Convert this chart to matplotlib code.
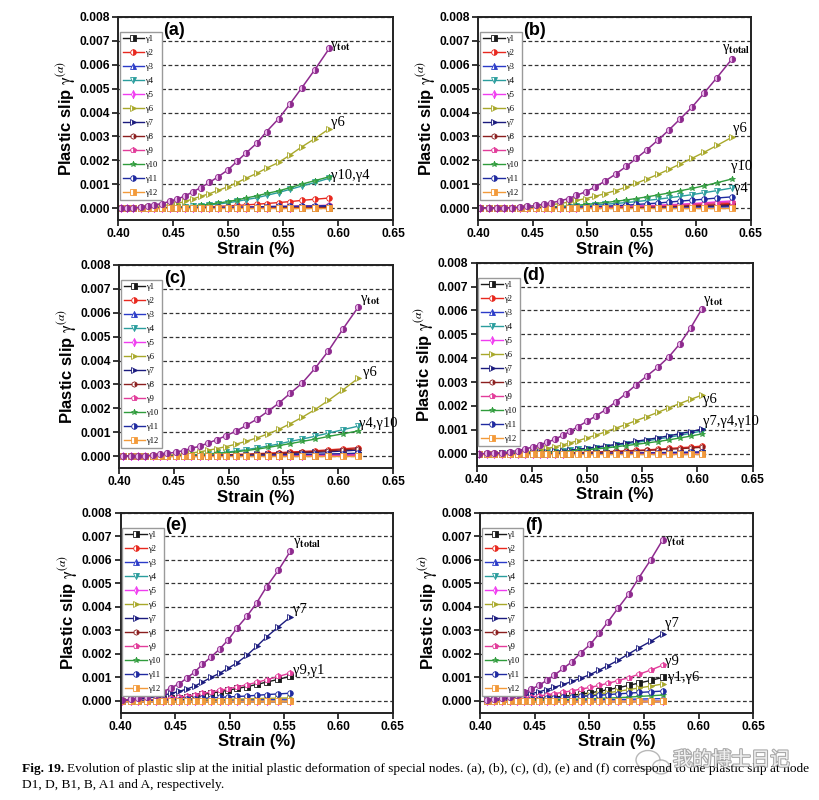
import matplotlib.pyplot as plt
import matplotlib.patheffects as pe
from matplotlib.patches import Ellipse
import numpy as np

plt.rcParams['font.family'] = 'Liberation Sans'
plt.rcParams['mathtext.fontset'] = 'stix'

# ---------------- data: plastic slip in units of 1e-3 ----------------
# (a) node D1
strain_a = [0.403, 0.408, 0.414, 0.421, 0.427, 0.433, 0.440, 0.447, 0.454, 0.461, 0.468, 0.475,
            0.483, 0.491, 0.500, 0.508, 0.516, 0.526, 0.535, 0.546, 0.556, 0.567, 0.579, 0.592]
slip_a = [
    [0, 0, 0, 0, 0, 0, 0, 0, 0, 0, 0, 0, 0, 0, 0, 0, 0, 0, 0.01, 0.01, 0.01, 0.01, 0.02, 0.02],
    [0, 0, 0, 0, 0, 0, 0, 0.01, 0.01, 0.02, 0.03, 0.04, 0.05, 0.07, 0.09, 0.11, 0.13, 0.16, 0.19, 0.23, 0.27, 0.32, 0.37, 0.42],
    [0, 0, 0, 0, 0, 0, 0, 0, 0, 0, 0, 0.01, 0.01, 0.01, 0.02, 0.02, 0.03, 0.03, 0.04, 0.05, 0.05, 0.06, 0.07, 0.08],
    [0, 0, 0, 0, 0, 0.01, 0.01, 0.02, 0.03, 0.05, 0.07, 0.10, 0.13, 0.17, 0.22, 0.28, 0.35, 0.43, 0.53, 0.65, 0.78, 0.92, 1.07, 1.25],
    [0, 0, 0, 0, 0, 0, 0, 0, 0, 0, 0, 0, 0, 0, 0.01, 0.01, 0.01, 0.01, 0.02, 0.02, 0.02, 0.03, 0.03, 0.04],
    [0, 0, 0.01, 0.02, 0.04, 0.06, 0.10, 0.14, 0.19, 0.28, 0.38, 0.49, 0.60, 0.74, 0.89, 1.06, 1.24, 1.45, 1.67, 1.91, 2.21, 2.56, 2.91, 3.32],
    [0, 0, 0, 0, 0, 0, 0, 0, 0, 0, 0, 0, 0.01, 0.01, 0.01, 0.01, 0.02, 0.02, 0.03, 0.03, 0.04, 0.05, 0.05, 0.06],
    [0, 0, 0, 0, 0, 0, 0, 0, 0, 0, 0, 0, 0, 0, 0, 0, 0, 0.01, 0.01, 0.01, 0.01, 0.01, 0.02, 0.02],
    [0, 0, 0, 0, 0, 0, 0, 0, 0, 0.01, 0.01, 0.01, 0.02, 0.02, 0.03, 0.03, 0.04, 0.05, 0.06, 0.07, 0.08, 0.09, 0.10, 0.12],
    [0, 0, 0, 0, 0.01, 0.01, 0.02, 0.03, 0.04, 0.06, 0.09, 0.12, 0.16, 0.21, 0.27, 0.34, 0.42, 0.51, 0.61, 0.72, 0.85, 1.00, 1.15, 1.31],
    [0, 0, 0, 0, 0, 0, 0, 0, 0.01, 0.01, 0.01, 0.02, 0.02, 0.03, 0.03, 0.04, 0.04, 0.05, 0.06, 0.07, 0.07, 0.08, 0.09, 0.10],
    [0, 0, 0, 0, 0, 0, 0, 0, 0, 0, 0, 0, 0, 0, 0, 0, 0, 0, 0, 0, 0, 0, 0, 0],
]
tot_a = [0, 0, 0.01, 0.04, 0.08, 0.13, 0.19, 0.28, 0.38, 0.51, 0.68, 0.85, 1.07, 1.31, 1.60, 1.95,
         2.29, 2.71, 3.20, 3.74, 4.34, 5.03, 5.80, 6.68]

# (b) node D
strain_b = [0.402, 0.410, 0.417, 0.424, 0.431, 0.438, 0.445, 0.453, 0.460, 0.467, 0.475, 0.483, 0.490, 0.499,
            0.507, 0.516, 0.526, 0.536, 0.545, 0.555, 0.565, 0.575, 0.585, 0.596, 0.607, 0.619, 0.633]
slip_b = [
    [0, 0, 0, 0, 0, 0, 0, 0, 0, 0, 0, 0, 0.01, 0.01, 0.01, 0.02, 0.02, 0.03, 0.03, 0.04, 0.04, 0.05, 0.05, 0.06, 0.07, 0.07, 0.08],
    [0, 0, 0, 0, 0, 0, 0, 0, 0, 0.01, 0.01, 0.01, 0.02, 0.02, 0.03, 0.04, 0.05, 0.06, 0.07, 0.08, 0.09, 0.11, 0.12, 0.14, 0.16, 0.18, 0.20],
    [0, 0, 0, 0, 0, 0, 0, 0, 0, 0, 0, 0, 0, 0, 0.01, 0.01, 0.01, 0.01, 0.02, 0.02, 0.02, 0.03, 0.03, 0.03, 0.04, 0.04, 0.05],
    [0, 0, 0, 0, 0, 0, 0.01, 0.01, 0.02, 0.03, 0.04, 0.06, 0.08, 0.10, 0.13, 0.16, 0.19, 0.23, 0.27, 0.32, 0.37, 0.43, 0.49, 0.56, 0.64, 0.73, 0.84],
    [0, 0, 0, 0, 0, 0, 0, 0, 0.01, 0.01, 0.01, 0.02, 0.02, 0.03, 0.04, 0.05, 0.06, 0.07, 0.09, 0.10, 0.12, 0.14, 0.16, 0.19, 0.22, 0.26, 0.30],
    [0, 0, 0, 0, 0.01, 0.02, 0.04, 0.07, 0.10, 0.14, 0.19, 0.25, 0.32, 0.40, 0.49, 0.60, 0.73, 0.88, 1.04, 1.22, 1.41, 1.62, 1.84, 2.08, 2.33, 2.62, 2.97],
    [0, 0, 0, 0, 0, 0, 0, 0, 0, 0, 0, 0.01, 0.01, 0.01, 0.02, 0.02, 0.03, 0.03, 0.04, 0.05, 0.05, 0.06, 0.07, 0.08, 0.09, 0.10, 0.12],
    [0, 0, 0, 0, 0, 0, 0, 0, 0, 0, 0.01, 0.01, 0.01, 0.01, 0.02, 0.02, 0.03, 0.04, 0.04, 0.05, 0.06, 0.07, 0.08, 0.10, 0.11, 0.13, 0.15],
    [0, 0, 0, 0, 0, 0, 0, 0, 0, 0.01, 0.01, 0.01, 0.02, 0.02, 0.03, 0.04, 0.05, 0.06, 0.07, 0.09, 0.10, 0.12, 0.14, 0.16, 0.19, 0.22, 0.25],
    [0, 0, 0, 0, 0, 0.01, 0.01, 0.02, 0.03, 0.05, 0.07, 0.09, 0.12, 0.15, 0.19, 0.23, 0.28, 0.34, 0.40, 0.47, 0.55, 0.63, 0.72, 0.82, 0.93, 1.06, 1.22],
    [0, 0, 0, 0, 0, 0, 0, 0.01, 0.01, 0.02, 0.02, 0.03, 0.04, 0.05, 0.07, 0.08, 0.10, 0.12, 0.15, 0.18, 0.21, 0.25, 0.29, 0.33, 0.37, 0.42, 0.47],
    [0, 0, 0, 0, 0, 0, 0, 0, 0, 0, 0, 0, 0, 0, 0, 0, 0, 0, 0, 0, 0, 0, 0, 0, 0, 0, 0],
]
tot_b = [0, 0, 0, 0.01, 0.02, 0.04, 0.07, 0.11, 0.16, 0.22, 0.30, 0.40, 0.53, 0.69, 0.88, 1.12, 1.42,
         1.75, 2.08, 2.45, 2.85, 3.27, 3.72, 4.22, 4.80, 5.46, 6.25]

# (c) node B1
strain_c = [0.404, 0.411, 0.417, 0.424, 0.431, 0.437, 0.444, 0.452, 0.459, 0.466, 0.474, 0.481, 0.489,
            0.498, 0.507, 0.516, 0.526, 0.536, 0.546, 0.556, 0.567, 0.579, 0.591, 0.604, 0.618]
slip_c = [
    [0, 0, 0, 0, 0, 0, 0, 0, 0, 0, 0, 0, 0, 0, 0, 0, 0.01, 0.01, 0.01, 0.01, 0.02, 0.02, 0.02, 0.03, 0.03],
    [0, 0, 0, 0, 0, 0, 0, 0.01, 0.01, 0.02, 0.02, 0.03, 0.04, 0.05, 0.07, 0.08, 0.10, 0.12, 0.14, 0.17, 0.19, 0.22, 0.26, 0.30, 0.35],
    [0, 0, 0, 0, 0, 0, 0, 0, 0, 0, 0, 0, 0.01, 0.01, 0.01, 0.02, 0.02, 0.02, 0.03, 0.03, 0.04, 0.04, 0.05, 0.05, 0.06],
    [0, 0, 0, 0, 0, 0.01, 0.01, 0.02, 0.03, 0.05, 0.07, 0.09, 0.12, 0.16, 0.21, 0.27, 0.34, 0.42, 0.51, 0.61, 0.71, 0.83, 0.96, 1.10, 1.25],
    [0, 0, 0, 0, 0, 0, 0, 0, 0, 0, 0, 0, 0, 0, 0.01, 0.01, 0.01, 0.01, 0.02, 0.02, 0.02, 0.03, 0.03, 0.04, 0.04],
    [0, 0, 0, 0.01, 0.01, 0.02, 0.04, 0.06, 0.09, 0.13, 0.18, 0.24, 0.31, 0.40, 0.50, 0.62, 0.76, 0.93, 1.12, 1.35, 1.62, 1.95, 2.33, 2.76, 3.25],
    [0, 0, 0, 0, 0, 0, 0, 0, 0.01, 0.01, 0.01, 0.02, 0.03, 0.03, 0.04, 0.05, 0.07, 0.08, 0.10, 0.11, 0.13, 0.16, 0.18, 0.21, 0.25],
    [0, 0, 0, 0, 0, 0, 0, 0, 0.01, 0.01, 0.02, 0.02, 0.03, 0.04, 0.05, 0.06, 0.08, 0.09, 0.11, 0.13, 0.16, 0.19, 0.22, 0.26, 0.30],
    [0, 0, 0, 0, 0, 0, 0, 0, 0, 0, 0, 0, 0, 0.01, 0.01, 0.01, 0.01, 0.02, 0.02, 0.02, 0.03, 0.03, 0.04, 0.04, 0.05],
    [0, 0, 0, 0, 0, 0.01, 0.01, 0.02, 0.03, 0.04, 0.06, 0.08, 0.11, 0.14, 0.18, 0.23, 0.29, 0.36, 0.44, 0.52, 0.61, 0.71, 0.82, 0.93, 1.05],
    [0, 0, 0, 0, 0, 0, 0, 0, 0, 0, 0.01, 0.01, 0.01, 0.02, 0.02, 0.03, 0.03, 0.04, 0.05, 0.06, 0.07, 0.08, 0.09, 0.10, 0.12],
    [0, 0, 0, 0, 0, 0, 0, 0, 0, 0, 0, 0, 0, 0, 0, 0, 0, 0, 0, 0, 0, 0, 0, 0, 0],
]
tot_c = [0, 0, 0.01, 0.02, 0.04, 0.07, 0.11, 0.16, 0.23, 0.32, 0.42, 0.54, 0.68, 0.86, 1.05, 1.28,
         1.55, 1.88, 2.22, 2.62, 3.05, 3.68, 4.40, 5.30, 6.22]

# (d) node B
strain_d = [0.402, 0.409, 0.416, 0.423, 0.430, 0.437, 0.444, 0.451, 0.457, 0.464, 0.471, 0.478, 0.485,
            0.492, 0.500, 0.508, 0.517, 0.526, 0.535, 0.544, 0.554, 0.564, 0.574, 0.584, 0.594, 0.604]
slip_d = [
    [0, 0, 0, 0, 0, 0, 0, 0, 0, 0, 0, 0, 0, 0.01, 0.01, 0.01, 0.01, 0.02, 0.02, 0.02, 0.03, 0.03, 0.03, 0.04, 0.04, 0.05],
    [0, 0, 0, 0, 0, 0, 0.01, 0.01, 0.01, 0.02, 0.02, 0.03, 0.04, 0.05, 0.06, 0.07, 0.09, 0.10, 0.12, 0.14, 0.16, 0.19, 0.22, 0.25, 0.28, 0.32],
    [0, 0, 0, 0, 0, 0, 0, 0, 0, 0, 0, 0.01, 0.01, 0.01, 0.02, 0.02, 0.02, 0.03, 0.03, 0.04, 0.04, 0.05, 0.05, 0.06, 0.06, 0.07],
    [0, 0, 0, 0.01, 0.01, 0.02, 0.03, 0.04, 0.05, 0.07, 0.09, 0.12, 0.15, 0.18, 0.21, 0.25, 0.30, 0.35, 0.41, 0.47, 0.54, 0.61, 0.69, 0.77, 0.86, 0.95],
    [0, 0, 0, 0, 0, 0, 0, 0, 0, 0, 0, 0, 0.01, 0.01, 0.01, 0.01, 0.02, 0.02, 0.02, 0.03, 0.03, 0.03, 0.04, 0.04, 0.05, 0.05],
    [0, 0, 0, 0.01, 0.02, 0.04, 0.07, 0.11, 0.16, 0.22, 0.29, 0.37, 0.46, 0.55, 0.66, 0.78, 0.92, 1.07, 1.22, 1.38, 1.55, 1.73, 1.92, 2.10, 2.28, 2.45],
    [0, 0, 0, 0.01, 0.01, 0.02, 0.03, 0.04, 0.06, 0.08, 0.10, 0.13, 0.16, 0.19, 0.23, 0.28, 0.33, 0.39, 0.45, 0.52, 0.59, 0.67, 0.75, 0.84, 0.93, 1.03],
    [0, 0, 0, 0, 0, 0, 0, 0.01, 0.01, 0.01, 0.02, 0.02, 0.03, 0.04, 0.05, 0.06, 0.07, 0.09, 0.10, 0.12, 0.14, 0.16, 0.19, 0.21, 0.24, 0.27],
    [0, 0, 0, 0, 0, 0, 0, 0, 0, 0, 0, 0, 0, 0.01, 0.01, 0.01, 0.01, 0.02, 0.02, 0.02, 0.03, 0.03, 0.03, 0.04, 0.04, 0.05],
    [0, 0, 0, 0, 0.01, 0.01, 0.02, 0.03, 0.04, 0.05, 0.07, 0.09, 0.12, 0.14, 0.17, 0.20, 0.24, 0.29, 0.34, 0.39, 0.45, 0.51, 0.58, 0.66, 0.74, 0.83],
    [0, 0, 0, 0, 0, 0, 0, 0, 0, 0, 0, 0.01, 0.01, 0.01, 0.01, 0.02, 0.02, 0.02, 0.03, 0.03, 0.04, 0.04, 0.05, 0.05, 0.06, 0.07],
    [0, 0, 0, 0, 0, 0, 0, 0, 0, 0, 0, 0, 0, 0, 0, 0, 0, 0, 0, 0, 0, 0, 0, 0, 0, 0],
]
tot_d = [0, 0.01, 0.02, 0.04, 0.08, 0.13, 0.20, 0.28, 0.37, 0.48, 0.61, 0.77, 0.95, 1.14, 1.36, 1.58,
         1.85, 2.17, 2.51, 2.87, 3.25, 3.62, 4.05, 4.60, 5.28, 6.06]

# (e) node A1
strain_e = [0.401, 0.409, 0.416, 0.424, 0.432, 0.439, 0.446, 0.454, 0.461, 0.468, 0.475, 0.483, 0.491,
            0.499, 0.507, 0.516, 0.525, 0.534, 0.545, 0.556]
slip_e = [
    [0, 0.01, 0.02, 0.03, 0.05, 0.08, 0.11, 0.14, 0.18, 0.23, 0.28, 0.33, 0.39, 0.46, 0.53, 0.61, 0.70, 0.80, 0.92, 1.05],
    [0, 0, 0, 0, 0, 0, 0, 0, 0, 0, 0, 0, 0, 0, 0, 0, 0, 0, 0, 0],
    [0, 0, 0, 0, 0, 0.01, 0.01, 0.01, 0.02, 0.02, 0.03, 0.03, 0.04, 0.04, 0.05, 0.05, 0.06, 0.06, 0.07, 0.08],
    [0, 0, 0, 0, 0, 0, 0, 0, 0, 0, 0, 0, 0, 0, 0, 0, 0, 0, 0, 0],
    [0, 0, 0, 0, 0, 0, 0, 0, 0, 0, 0, 0, 0, 0, 0, 0, 0, 0, 0, 0],
    [0, 0, 0, 0, 0.01, 0.01, 0.02, 0.02, 0.03, 0.04, 0.04, 0.05, 0.06, 0.07, 0.08, 0.09, 0.10, 0.11, 0.12, 0.13],
    [0.03, 0.05, 0.08, 0.12, 0.17, 0.24, 0.32, 0.41, 0.51, 0.63, 0.80, 1.00, 1.18, 1.40, 1.62, 1.94, 2.32, 2.72, 3.15, 3.57],
    [0, 0, 0, 0, 0, 0, 0, 0, 0, 0, 0, 0, 0, 0, 0, 0, 0, 0, 0, 0],
    [0, 0.01, 0.02, 0.04, 0.06, 0.09, 0.12, 0.16, 0.21, 0.26, 0.32, 0.38, 0.45, 0.52, 0.60, 0.69, 0.79, 0.90, 1.04, 1.19],
    [0, 0, 0, 0, 0, 0, 0, 0, 0, 0, 0, 0, 0, 0, 0, 0, 0, 0, 0, 0],
    [0, 0.01, 0.01, 0.02, 0.03, 0.04, 0.05, 0.06, 0.08, 0.09, 0.11, 0.13, 0.15, 0.17, 0.19, 0.21, 0.24, 0.27, 0.30, 0.33],
    [0, 0, 0, 0, 0, 0, 0, 0, 0, 0, 0, 0, 0, 0, 0, 0, 0, 0, 0, 0],
]
tot_e = [0.04, 0.07, 0.11, 0.18, 0.27, 0.39, 0.55, 0.74, 0.98, 1.23, 1.55, 1.87, 2.21, 2.61, 3.11,
         3.60, 4.17, 4.85, 5.56, 6.37]

# (f) node A
strain_f = [0.406, 0.413, 0.420, 0.427, 0.434, 0.440, 0.447, 0.454, 0.461, 0.468, 0.476, 0.484, 0.492,
            0.501, 0.509, 0.517, 0.526, 0.536, 0.545, 0.556, 0.567]
slip_f = [
    [0, 0.01, 0.02, 0.03, 0.04, 0.06, 0.08, 0.10, 0.13, 0.16, 0.20, 0.24, 0.29, 0.35, 0.41, 0.48, 0.56, 0.66, 0.76, 0.87, 1.00],
    [0, 0, 0, 0, 0, 0, 0, 0, 0, 0, 0, 0, 0, 0, 0, 0, 0, 0, 0, 0, 0],
    [0, 0, 0, 0, 0, 0.01, 0.01, 0.01, 0.02, 0.02, 0.03, 0.03, 0.04, 0.04, 0.05, 0.06, 0.06, 0.07, 0.08, 0.09, 0.10],
    [0, 0, 0, 0, 0, 0, 0, 0, 0, 0, 0, 0, 0, 0, 0, 0, 0, 0, 0, 0, 0],
    [0, 0, 0, 0, 0, 0, 0, 0, 0, 0, 0, 0, 0, 0, 0, 0, 0, 0, 0, 0, 0],
    [0, 0, 0.01, 0.02, 0.03, 0.04, 0.06, 0.08, 0.10, 0.12, 0.15, 0.18, 0.22, 0.26, 0.30, 0.35, 0.41, 0.48, 0.55, 0.63, 0.72],
    [0.04, 0.06, 0.09, 0.13, 0.18, 0.24, 0.31, 0.39, 0.48, 0.58, 0.70, 0.83, 0.96, 1.13, 1.31, 1.50, 1.72, 2.00, 2.25, 2.53, 2.84],
    [0, 0, 0, 0, 0, 0, 0, 0, 0, 0, 0, 0, 0, 0, 0, 0, 0, 0, 0, 0, 0],
    [0.02, 0.03, 0.05, 0.07, 0.10, 0.13, 0.17, 0.21, 0.26, 0.31, 0.37, 0.43, 0.50, 0.58, 0.66, 0.75, 0.86, 0.99, 1.13, 1.31, 1.52],
    [0, 0, 0, 0.01, 0.01, 0.02, 0.02, 0.03, 0.04, 0.05, 0.06, 0.07, 0.08, 0.09, 0.11, 0.12, 0.14, 0.16, 0.19, 0.22, 0.25],
    [0.01, 0.02, 0.03, 0.04, 0.05, 0.06, 0.08, 0.09, 0.11, 0.13, 0.15, 0.17, 0.19, 0.22, 0.24, 0.27, 0.30, 0.33, 0.36, 0.39, 0.42],
    [0, 0, 0, 0, 0, 0, 0, 0, 0, 0, 0, 0, 0, 0, 0, 0, 0, 0, 0, 0, 0],
]
tot_f = [0.06, 0.08, 0.12, 0.18, 0.26, 0.37, 0.50, 0.67, 0.87, 1.10, 1.38, 1.66, 2.04, 2.41, 2.87,
         3.36, 3.93, 4.54, 5.21, 5.99, 6.84]

slip_names = ['γ1', 'γ2', 'γ3', 'γ4', 'γ5', 'γ6', 'γ7', 'γ8', 'γ9', 'γ10', 'γ11', 'γ12']

# ---------------- styles (Origin-like) ----------------
colors = ['#1a1a1a', '#e8281e', '#2b3bc8', '#2a9d9d', '#f03cf0', '#a8a82a',
          '#1b1b7e', '#8b1e1e', '#e23c9a', '#2f9c3c', '#1f2aa0', '#f39a3a']
markers = ['s', 'o', '^', 'v', 'd', '>', '>', 'h', 'p', '*', 'o', 's']
tot_color = '#8e2a8e'

TOT = r'γ$_{\mathbf{tot}}$'
TOTAL = r'γ$_{\mathbf{total}}$'

# panel label, data, curve labels (x, y[1e-3]), axes rect in figure fraction
panels = [
    ('(a)', strain_a, slip_a, tot_a,
     [(TOT, 0.593, 6.8), ('γ6', 0.594, 3.6), ('γ10,γ4', 0.594, 1.35)],
     [0.1441, 0.725, 0.3358, 0.2538]),
    ('(b)', strain_b, slip_b, tot_b,
     [(TOTAL, 0.624, 6.66), ('γ6', 0.634, 3.35), ('γ10', 0.632, 1.72), ('γ4', 0.635, 0.82)],
     [0.5840, 0.725, 0.3326, 0.2538]),
    ('(c)', strain_c, slip_c, tot_c,
     [(TOT, 0.6196, 6.53), ('γ6', 0.6227, 3.5), ('γ4,γ10', 0.619, 1.35)],
     [0.1453, 0.415, 0.3346, 0.2538]),
    ('(d)', strain_d, slip_d, tot_d,
     [(TOT, 0.6053, 6.39), ('γ6', 0.6053, 2.28), ('γ7,γ4,γ10', 0.6053, 1.33)],
     [0.5820, 0.4179, 0.3370, 0.2538]),
    ('(e)', strain_e, slip_e, tot_e,
     [(TOTAL, 0.5587, 6.70), ('γ7', 0.5587, 3.9), ('γ9,γ1', 0.5587, 1.31)],
     [0.1474, 0.1091, 0.3321, 0.2500]),
    ('(f)', strain_f, slip_f, tot_f,
     [(TOT, 0.5692, 6.81), ('γ7', 0.5692, 3.29), ('γ9', 0.5692, 1.67), ('γ1,γ6', 0.5723, 1.0)],
     [0.5861, 0.1091, 0.3337, 0.2500]),
]

fig = plt.figure(figsize=(8.19, 8.0), dpi=100)

for tag, strain, slip, tot, notes, rect in panels:
    ax = fig.add_axes(rect)
    s = np.array(strain)
    for k in range(12):
        ax.plot(s, np.array(slip[k]) * 1e-3, '-', color=colors[k], lw=1.0,
                marker=markers[k], ms=4, mec=colors[k], mfc=colors[k],
                fillstyle='right', markerfacecoloralt='white', mew=0.6,
                label=slip_names[k])
    ax.plot(s, np.array(tot) * 1e-3, '-', color=tot_color, lw=1.1, marker='o', ms=4.5,
            mec=tot_color, mfc=tot_color, fillstyle='right', markerfacecoloralt='#eab8ea',
            mew=0.6, label='_nolegend_')

    ax.set_xlim(0.40, 0.65)
    ax.set_ylim(-0.0005, 0.008)
    ax.set_xticks(np.arange(0.40, 0.651, 0.05))
    ax.set_xticklabels(['%.2f' % v for v in np.arange(0.40, 0.651, 0.05)])
    ax.set_yticks(np.arange(0, 0.0081, 0.001))
    ax.set_yticklabels(['%.3f' % v for v in np.arange(0, 0.0081, 0.001)])
    ax.tick_params(direction='out', length=4, width=1.1, labelsize=8.7, pad=2,
                   top=False, right=False)
    for lab in ax.get_xticklabels() + ax.get_yticklabels():
        lab.set_fontweight('bold')
    for sp in ax.spines.values():
        sp.set_linewidth(1.4)
        sp.set_color('#222222')
    ax.yaxis.grid(True, linestyle=(0, (3, 2)), color='#333333', lw=0.9)
    ax.set_axisbelow(True)

    ax.set_xlabel('Strain (%)', fontsize=12, fontweight='bold', labelpad=1)
    ax.set_ylabel(r'Plastic slip $\mathrm{\gamma}^{(\alpha)}$', fontsize=12,
                  fontweight='bold', labelpad=1)

    ax.text(0.165, 0.935, tag, transform=ax.transAxes, fontsize=13,
            fontweight='bold', va='center', ha='left')

    for txt, x, y in notes:
        ax.text(x, y * 1e-3, txt, fontsize=10.5, family='Liberation Serif',
                va='center', ha='left')

    ax.legend(loc='upper left', bbox_to_anchor=(0.006, 0.925),
              prop={'family': 'Liberation Serif', 'size': 6},
              frameon=True, fancybox=False, edgecolor='#9a9a9a', framealpha=1,
              handlelength=2.6, handletextpad=0.25, labelspacing=0.72,
              borderpad=0.35, borderaxespad=0, numpoints=1)

# ---------------- caption ----------------
renderer = fig.canvas.get_renderer()
cap_x, cap_y1, cap_y2 = 22 / 819, 1 - 769 / 800, 1 - 785 / 800
t0 = fig.text(cap_x, cap_y1, 'Fig. 19.', fontsize=9.6, fontweight='bold',
              family='Liberation Serif', va='center')
bb = t0.get_window_extent(renderer=renderer)
fig.text((bb.x1 + 3) / fig.bbox.width, cap_y1,
         'Evolution of plastic slip at the initial plastic deformation of special nodes. '
         '(a), (b), (c), (d), (e) and (f) correspond to the plastic slip at node',
         fontsize=9.6, family='Liberation Serif', va='center')
fig.text(cap_x, cap_y2, 'D1, D, B1, B, A1 and A, respectively.', fontsize=9.6,
         family='Liberation Serif', va='center')

# watermark (semi-transparent, lies over the caption as in the source image)
for cx, cy, w, h in [(648, 760, 24, 19), (661, 767, 17, 14)]:
    fig.patches.append(Ellipse((cx / 819, 1 - cy / 800), w / 819, h / 800,
                               transform=fig.transFigure, facecolor='white',
                               edgecolor='#a0a0a0', lw=1.0, alpha=0.75))
fig.text(673 / 819, 1 - 760 / 800, '我的博士日记', fontsize=14, family='Noto Sans CJK SC',
         color='white', alpha=0.85, ha='left', va='center',
         path_effects=[pe.withStroke(linewidth=1.6, foreground='#9a9a9a')])

fig.savefig('out.png', dpi=100)
